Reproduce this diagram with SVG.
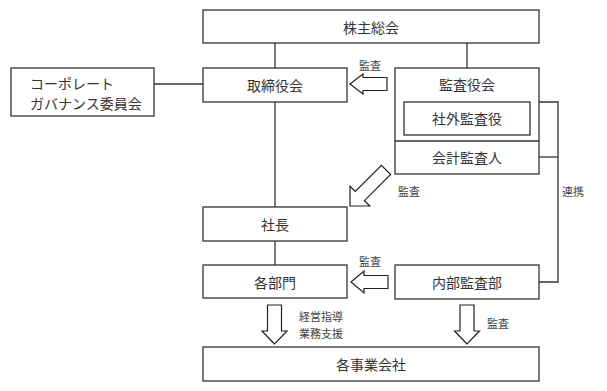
<svg xmlns="http://www.w3.org/2000/svg" width="607" height="391" viewBox="0 0 607 391">
<style>
.box{fill:#fff;stroke:#333;stroke-width:1.3}
.ln{fill:none;stroke:#333;stroke-width:1.3}
.arr{fill:#fff;stroke:#222;stroke-width:1.2;stroke-linejoin:miter}
.t{font-family:"Noto Sans CJK JP","Noto Sans CJK SC",sans-serif;font-size:14px;fill:#333;text-anchor:middle;dominant-baseline:central}
.s{font-family:"Noto Sans CJK JP","Noto Sans CJK SC",sans-serif;font-size:11px;fill:#444;dominant-baseline:central}
</style>
<rect width="607" height="391" fill="#fff"/>
<g id="connectors">
<line class="ln" x1="275" y1="43" x2="275" y2="68"/>
<line class="ln" x1="467" y1="43" x2="467" y2="68"/>
<line class="ln" x1="275" y1="102" x2="275" y2="207"/>
<line class="ln" x1="275" y1="241" x2="275" y2="265"/>
<line class="ln" x1="154" y1="84" x2="203" y2="84"/>
<polyline class="ln" points="539,102 558,102 558,282 539,282"/>
<line class="ln" x1="539" y1="157" x2="558" y2="157"/>
<polygon class="arr" points="350,84 363,74 363,77.5 387,77.5 387,90.5 363,90.5 363,94"/>
<polygon class="arr" points="351,282 364,271 364,275.5 388,275.5 388,288.5 364,288.5 364,293"/>
<polygon class="arr" transform="translate(350,206) rotate(-45)" points="0,0 14,-14 14,-6.5 51,-6.5 51,6.5 14,6.5 14,14"/>
<polygon class="arr" points="274.5,344 262,331 267.5,331 267.5,305 281.5,305 281.5,331 287,331"/>
<polygon class="arr" points="467,344 454.5,331 460,331 460,305 474,305 474,331 479.5,331"/>
<text class="s" x="359" y="65">監査</text>
<text class="s" x="359" y="261">監査</text>
<text class="s" x="398" y="191">監査</text>
<text class="s" x="562" y="191">連携</text>
<text class="s" x="299" y="316">経営指導</text>
<text class="s" x="299" y="333">業務支援</text>
<text class="s" x="487" y="323">監査</text>
</g>
<g id="n-shareholders">
<rect class="box" x="203" y="10" width="336" height="33"/>
<text class="t" x="371" y="27">株主総会</text>
</g>
<g id="n-governance">
<rect class="box" x="11" y="68" width="143" height="48"/>
<text class="t" x="30" y="83" style="text-anchor:start">コーポレート</text>
<text class="t" x="30" y="103" style="text-anchor:start">ガバナンス委員会</text>
</g>
<g id="n-board">
<rect class="box" x="203" y="68" width="144" height="34"/>
<text class="t" x="275" y="85">取締役会</text>
</g>
<g id="n-audit-board">
<rect class="box" x="395" y="68" width="144" height="106"/>
<line class="ln" x1="395" y1="141" x2="539" y2="141"/>
<text class="t" x="467" y="84">監査役会</text>
</g>
<g id="n-outside-auditor">
<rect class="box" x="404" y="102" width="126" height="33"/>
<text class="t" x="467" y="118">社外監査役</text>
</g>
<g id="n-accounting-auditor">
<text class="t" x="467" y="157">会計監査人</text>
</g>
<g id="n-president">
<rect class="box" x="203" y="207" width="144" height="34"/>
<text class="t" x="275" y="224">社長</text>
</g>
<g id="n-departments">
<rect class="box" x="203" y="265" width="144" height="33"/>
<text class="t" x="275" y="282">各部門</text>
</g>
<g id="n-internal-audit">
<rect class="box" x="395" y="265" width="144" height="34"/>
<text class="t" x="467" y="282">内部監査部</text>
</g>
<g id="n-companies">
<rect class="box" x="203" y="347" width="336" height="34"/>
<text class="t" x="371" y="364">各事業会社</text>
</g>
</svg>
